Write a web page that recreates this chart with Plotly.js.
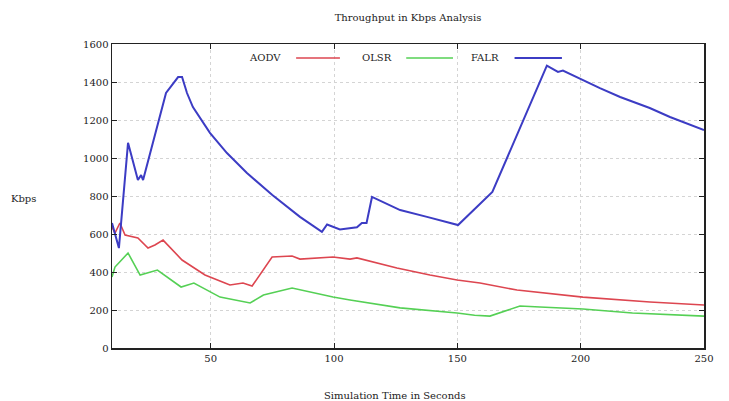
<!DOCTYPE html>
<html>
<head>
<meta charset="utf-8">
<script src="https://cdn.plot.ly/plotly-3.0.1.min.js"></script>
<style>
html,body{margin:0;padding:0;background:#fff;}
#chart{width:729px;height:401px;}
</style>
</head>
<body>
<div id="chart"></div>
<script>
// ---- data ----
var seriesNames = ["AODV", "OLSR", "FALR"];

var aodvX = [10, 11.2, 13.2, 15.3, 20.5, 22.6, 24.6, 27.4, 30.7, 38.4, 47.7, 55.8, 57.8, 63.1, 66.8, 74.9, 83, 86.2, 99.6, 106.5, 109.3, 125.5, 138.9, 149.9, 159.2, 174.2, 200.9, 228.1, 250];
var aodvY = [637, 605, 658, 595, 579, 553, 526, 542, 568, 463, 384, 342, 332, 342, 326, 479, 484, 468, 479, 468, 474, 421, 384, 358, 342, 305, 268, 242, 226];

var olsrX = [10, 11.2, 16.5, 21.4, 28.4, 38, 43.2, 53.8, 66, 71.4, 83, 90.3, 99.6, 106.5, 126.8, 149.9, 157, 163.2, 175.4, 183.5, 200.9, 221, 250];
var olsrY = [374, 426, 500, 384, 410, 321, 342, 268, 237, 279, 316, 295, 268, 253, 211, 184, 172, 168, 221, 216, 205, 184, 168];

var falrX = [10, 12.8, 16.5, 20.5, 21.8, 22.6, 31.9, 35.5, 36.8, 38.4, 40.4, 42.8, 49.7, 56.6, 64.7, 75, 86.2, 95.1, 97.2, 102.4, 109.3, 111.3, 113.2, 115.4, 126.8, 137.7, 150.3, 164.2, 186.3, 190.8, 192.8, 207.8, 216, 228, 236.2, 250];
var falrY = [658, 526, 1080, 884, 910, 884, 1342, 1400, 1426, 1426, 1342, 1268, 1132, 1026, 921, 805, 690, 611, 650, 624, 635, 658, 658, 795, 726, 690, 647, 821, 1486, 1453, 1460, 1368, 1321, 1263, 1216, 1147];

var xTicks = [50, 100, 150, 200, 250];
var yTicks = [0, 200, 400, 600, 800, 1000, 1200, 1400, 1600];

var titleText = "Throughput in Kbps Analysis";
var xTitleText = "Simulation Time in Seconds";
var yTitleText = "Kbps";

// ---- styling ----
var colors = ["#dd4650", "#55d055", "#3c3cc4"];
var widths = [1.6, 1.6, 2];
var FONT = "DejaVu Serif, Liberation Serif, serif";

var xs = [aodvX, olsrX, falrX];
var ys = [aodvY, olsrY, falrY];
var traces = [];
for (var i = 0; i < 3; i++) {
  traces.push({
    x: xs[i], y: ys[i], type: "scatter", mode: "lines", name: seriesNames[i],
    line: {color: colors[i], width: widths[i]}, showlegend: false
  });
}

// manual gnuplot-style legend: text then line sample
var legTextRight = [0.289, 0.477, 0.657];
var legLine = [[0.311, 0.385], [0.497, 0.576], [0.68, 0.76]];
var legY = 0.954;
var annotations = [];
var shapes = [];
for (var j = 0; j < 3; j++) {
  annotations.push({
    text: seriesNames[j], xref: "paper", yref: "paper", x: legTextRight[j], y: legY,
    xanchor: "right", yanchor: "middle", showarrow: false,
    font: {family: FONT, size: 10, color: "#222"}
  });
  shapes.push({
    type: "line", xref: "paper", yref: "paper",
    x0: legLine[j][0], x1: legLine[j][1], y0: legY, y1: legY,
    line: {color: colors[j], width: widths[j]}
  });
}
annotations.push({
  text: xTitleText, xref: "paper", yref: "paper", x: 0.478, y: -0.155,
  xanchor: "center", yanchor: "middle", showarrow: false,
  font: {family: FONT, size: 10, color: "#222"}
});
annotations.push({
  text: yTitleText, xref: "paper", yref: "paper", x: -0.150, y: 0.493,
  xanchor: "center", yanchor: "middle", showarrow: false,
  font: {family: FONT, size: 10, color: "#222"}
});

var layout = {
  width: 729, height: 401,
  margin: {l: 112, r: 25, t: 44, b: 53},
  paper_bgcolor: "#fff", plot_bgcolor: "#fff",
  title: {text: titleText, font: {family: FONT, size: 10, color: "#222"},
          x: 0.5, xref: "paper", y: 1 - 17 / 401, yanchor: "middle"},
  font: {family: FONT, size: 10, color: "#222"},
  xaxis: {
    range: [10, 250], tickvals: xTicks, ticktext: xTicks.map(String),
    showline: true, linecolor: "#222", linewidth: 1.5, mirror: "ticks",
    ticks: "inside", ticklen: 5, tickcolor: "#222",
    showgrid: true, gridcolor: "#d4d4d4", griddash: "dot", gridwidth: 1,
    zeroline: false, fixedrange: true,
    tickfont: {family: FONT, size: 10, color: "#222"}
  },
  yaxis: {
    range: [0, 1600], tickvals: yTicks, ticktext: yTicks.map(String),
    showline: true, linecolor: "#222", linewidth: 1.5, mirror: "ticks",
    ticks: "inside", ticklen: 5, tickcolor: "#222",
    showgrid: true, gridcolor: "#d4d4d4", griddash: "dot", gridwidth: 1,
    zeroline: false, fixedrange: true,
    tickfont: {family: FONT, size: 10, color: "#222"}
  },
  annotations: annotations,
  shapes: shapes
};

Plotly.newPlot("chart", traces, layout, {staticPlot: true, displayModeBar: false});
</script>
</body>
</html>
